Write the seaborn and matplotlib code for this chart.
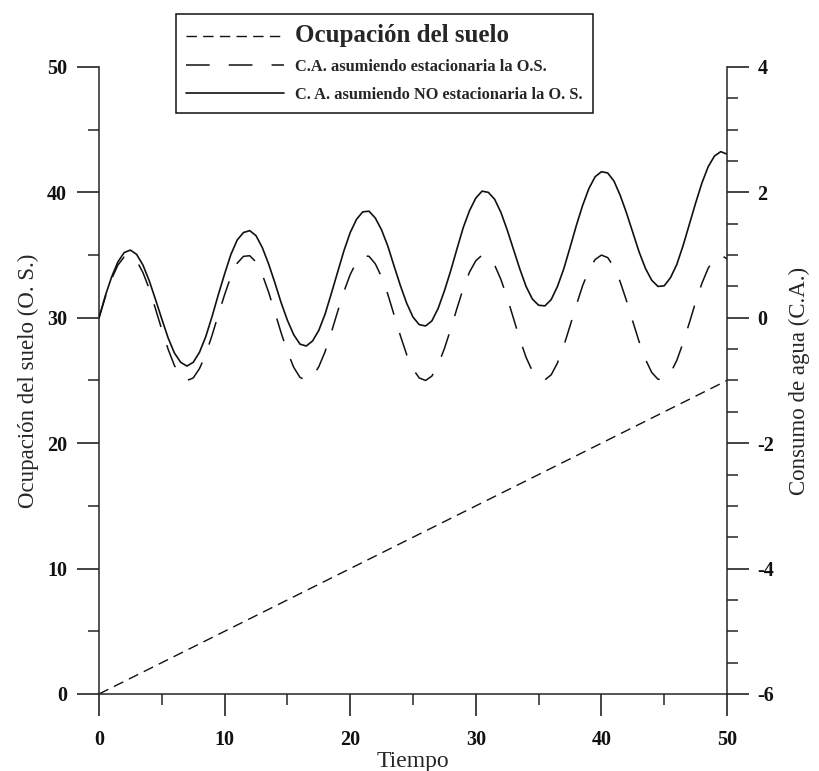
import numpy as np
import pandas as pd
import seaborn as sns
import matplotlib.pyplot as plt
from matplotlib.ticker import MultipleLocator

# Tiempo (every half unit)
tiempo = np.arange(0, 50.5, 0.5)

# Ocupacion del suelo (left axis) - straight line 0 -> 25
tiempo_os = [0, 50]
ocupacion = [0, 25]

# C.A. assuming stationary O.S. (right axis)
ca_estacionaria = [
    0.00, 0.33, 0.62, 0.84, 0.97, 1.00, 0.91, 0.72, 0.46, 0.14,
    -0.19, -0.50, -0.76, -0.93, -1.00, -0.96, -0.81, -0.58, -0.28, 0.05,
    0.37, 0.66, 0.87, 0.98, 0.99, 0.89, 0.69, 0.41, 0.09, -0.24,
    -0.54, -0.79, -0.95, -1.00, -0.94, -0.78, -0.54, -0.23, 0.10, 0.42,
    0.69, 0.89, 0.99, 0.98, 0.86, 0.65, 0.37, 0.04, -0.29, -0.59,
    -0.82, -0.96, -1.00, -0.93, -0.75, -0.49, -0.18, 0.15, 0.47, 0.73,
    0.91, 1.00, 0.97, 0.84, 0.61, 0.32, -0.01, -0.34, -0.63, -0.85,
    -0.97, -0.99, -0.91, -0.72, -0.45, -0.13, 0.20, 0.51, 0.76, 0.93,
    1.00, 0.96, 0.81, 0.57, 0.27, -0.06, -0.38, -0.66, -0.87, -0.98,
    -0.99, -0.88, -0.68, -0.40, -0.08, 0.25, 0.55, 0.79, 0.95, 1.00,
    0.94,
]

# C.A. assuming NON stationary O.S. (right axis)
ca_no_estacionaria = [
    0.00, 0.35, 0.65, 0.89, 1.04, 1.08, 1.01, 0.84, 0.59, 0.29,
    -0.02, -0.32, -0.56, -0.71, -0.77, -0.71, -0.55, -0.30, 0.02, 0.37,
    0.70, 1.01, 1.24, 1.36, 1.39, 1.31, 1.12, 0.86, 0.56, 0.24,
    -0.04, -0.27, -0.42, -0.45, -0.37, -0.20, 0.06, 0.39, 0.73, 1.07,
    1.36, 1.57, 1.69, 1.70, 1.59, 1.40, 1.14, 0.82, 0.51, 0.23,
    0.01, -0.11, -0.13, -0.05, 0.15, 0.43, 0.75, 1.10, 1.44, 1.71,
    1.91, 2.02, 2.00, 1.89, 1.68, 1.40, 1.09, 0.78, 0.50, 0.30,
    0.20, 0.19, 0.29, 0.50, 0.78, 1.12, 1.47, 1.79, 2.06, 2.25,
    2.33, 2.31, 2.18, 1.95, 1.67, 1.36, 1.05, 0.79, 0.60, 0.50,
    0.51, 0.64, 0.85, 1.15, 1.49, 1.83, 2.15, 2.41, 2.58, 2.65,
    2.61,
]

labels = ["Ocupación del suelo",
          "C.A. asumiendo estacionaria la O.S.",
          "C. A. asumiendo NO estacionaria la O. S."]

sns.set_style("ticks")
plt.rcParams['font.family'] = ['Liberation Serif', 'DejaVu Serif']
plt.rcParams['axes.linewidth'] = 1.1
plt.rcParams['axes.unicode_minus'] = False

fig = plt.figure(figsize=(8.19, 7.71), dpi=100)
ax = fig.add_axes([0.1209, 0.0999, 0.7668, 0.8132])
ax2 = ax.twinx()

col = '#111111'
sns.lineplot(x=tiempo_os, y=ocupacion, ax=ax, color=col, lw=1.0,
             ls=(0, (7.5, 4.5)), label=labels[0], legend=False)
sns.lineplot(x=tiempo, y=ca_estacionaria, ax=ax2, color=col, lw=1.1,
             ls=(0, (15.5, 12.5)), label=labels[1], legend=False)
sns.lineplot(x=tiempo, y=ca_no_estacionaria, ax=ax2, color=col, lw=1.2,
             ls='-', label=labels[2], legend=False)

ax.set_xlim(0, 50)
ax.set_ylim(0, 50)
ax2.set_ylim(-6, 4)

for s in ['top', 'right']:
    ax.spines[s].set_visible(False)
for s in ['top', 'bottom', 'left']:
    ax2.spines[s].set_visible(False)

ax.xaxis.set_major_locator(MultipleLocator(10))
ax.xaxis.set_minor_locator(MultipleLocator(5))
ax.yaxis.set_major_locator(MultipleLocator(10))
ax.yaxis.set_minor_locator(MultipleLocator(5))
ax2.yaxis.set_major_locator(MultipleLocator(2))
ax2.yaxis.set_minor_locator(MultipleLocator(0.5))

ax.tick_params(axis='both', which='major', direction='out', length=16, width=1.1,
               labelsize=14.5, pad=7, colors=col)
ax.tick_params(axis='both', which='minor', direction='out', length=8, width=1.1)
ax.tick_params(axis='x', which='major', pad=10)
ax2.tick_params(axis='y', which='major', direction='out', length=16, width=1.1,
                labelsize=14.5, pad=6, colors=col)
ax2.tick_params(axis='y', which='minor', direction='out', length=8, width=1.1)
for lab in ax.get_xticklabels() + ax.get_yticklabels() + ax2.get_yticklabels():
    lab.set_fontweight('bold')

ax.set_xlabel('Tiempo', fontsize=17, labelpad=1)
ax.set_ylabel('Ocupación del suelo (O. S.)', fontsize=16.5, labelpad=6)
ax2.set_ylabel('Consumo de agua (C.A.)', fontsize=16.5, labelpad=10)

handles = ax.get_lines() + ax2.get_lines()
leg = fig.legend(handles, labels, loc='upper left',
                 bbox_to_anchor=(0.2149, 0.9818), borderaxespad=0,
                 fontsize=11.8, handlelength=6.0, handletextpad=0.65,
                 borderpad=0.62, labelspacing=0.72,
                 fancybox=False, framealpha=1, edgecolor=col)
leg.get_frame().set_linewidth(1.1)
for i, txt in enumerate(leg.get_texts()):
    txt.set_fontweight('bold')
    if i == 0:
        txt.set_fontsize(18)

fig.savefig('out.png', dpi=100)
